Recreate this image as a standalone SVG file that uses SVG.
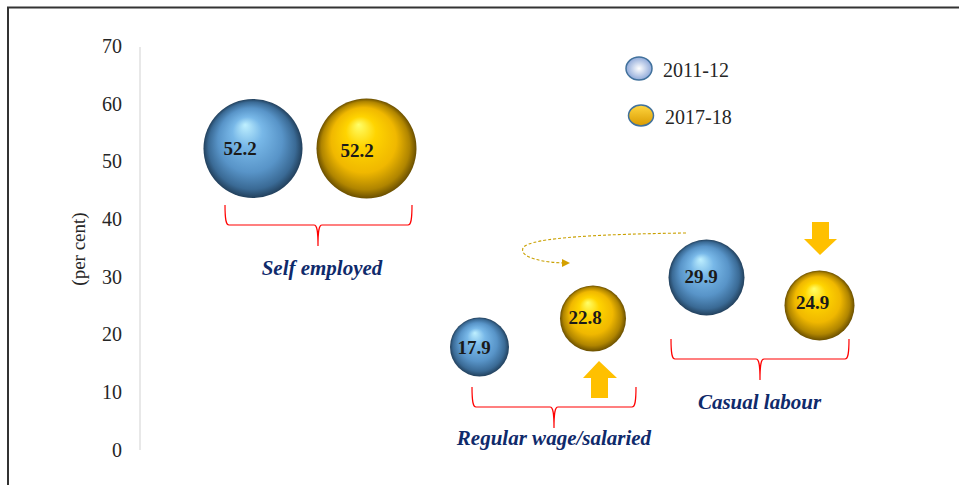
<svg xmlns="http://www.w3.org/2000/svg" width="959" height="485" viewBox="0 0 959 485">
<style>
.brace{fill:none;stroke:#ff0000;stroke-width:1.2}
.arr{fill:#ffc000}
</style>
<defs>
<radialGradient id="gb" cx="50%" cy="50%" r="50%" fx="42%" fy="26%">
<stop offset="0" stop-color="#bff0ff"/>
<stop offset="0.3" stop-color="#78b8e8"/>
<stop offset="0.65" stop-color="#5894c8"/>
<stop offset="0.88" stop-color="#3a6a95"/>
<stop offset="1" stop-color="#22405c"/>
</radialGradient>
<radialGradient id="gy" cx="50%" cy="50%" r="50%" fx="42%" fy="26%">
<stop offset="0" stop-color="#ffff6a"/>
<stop offset="0.3" stop-color="#ffd400"/>
<stop offset="0.65" stop-color="#f0b800"/>
<stop offset="0.88" stop-color="#b08500"/>
<stop offset="1" stop-color="#6a4f00"/>
</radialGradient>
<radialGradient id="lb" cx="50%" cy="50%" r="50%">
<stop offset="0" stop-color="#ffffff"/>
<stop offset="1" stop-color="#8fa9d9"/>
</radialGradient>
<linearGradient id="ly" x1="0" y1="0" x2="0" y2="1">
<stop offset="0" stop-color="#ffd640"/>
<stop offset="1" stop-color="#d99a00"/>
</linearGradient>
<marker id="ah" markerWidth="8" markerHeight="8" refX="6" refY="4" orient="auto" markerUnits="userSpaceOnUse">
<path d="M0,0 L8,4 L0,8 Z" fill="#d4a000"/>
</marker>
</defs>
<rect width="959" height="485" fill="#ffffff"/>
<path d="M8,485 V7.5 H959" fill="none" stroke="#333333" stroke-width="2"/>
<g id="axis">
<line x1="140" y1="47" x2="140" y2="450" stroke="#d9d9d9" stroke-width="1.2"/>
<g font-family="Liberation Serif, serif" font-size="20" fill="#262626" text-anchor="end">
<text x="122" y="53">70</text>
<text x="122" y="111">60</text>
<text x="122" y="168">50</text>
<text x="122" y="226">40</text>
<text x="122" y="284">30</text>
<text x="122" y="341">20</text>
<text x="122" y="399">10</text>
<text x="122" y="457">0</text>
</g>
<text font-family="Liberation Serif, serif" font-size="19" fill="#262626" transform="translate(85,249) rotate(-90)" text-anchor="middle">(per cent)</text>
</g>
<g id="legend" font-family="Liberation Serif, serif" font-size="20" fill="#262626">
<ellipse cx="639" cy="68.5" rx="13" ry="11.5" fill="url(#lb)" stroke="#41719c" stroke-width="1.5"/>
<text x="663" y="77">2011-12</text>
<ellipse cx="641" cy="115.5" rx="12.5" ry="10.5" fill="url(#ly)" stroke="#41719c" stroke-width="1.5"/>
<text x="665" y="124">2017-18</text>
</g>
<g id="connectors">
<path class="brace" d="M225,205 C225,220 226,225 229,225 H314 C317,225 318,230 318,246 C318,230 319,225 322,225 H408 C411,225 412,220 412,205"/>
<path class="brace" d="M472,387 C472,402 473,407 476,407 H550 C553,407 554,412 554,428 C554,412 555,407 558,407 H632 C635,407 636,402 636,387"/>
<path class="brace" d="M671,339 C671,354 672,359 675,359 H756 C759,359 760,364 760,380 C760,364 761,359 764,359 H845 C848,359 849,354 849,339"/>
<path d="M686,233 C610,234 528,237 523,248 C519,258 545,263 568,263" fill="none" stroke="#c9a000" stroke-width="1.1" stroke-dasharray="3,2" marker-end="url(#ah)"/>
<path class="arr" d="M591,398 V378 H583 L599,361 L617,378 H608 V398 Z"/>
<path class="arr" d="M812,222 H829 V239 H837 L820,255 L804,239 H812 Z"/>
</g>
<g font-family="Liberation Serif, serif" font-size="19" font-weight="bold" fill="#1a1a1a" text-anchor="middle">
<g id="se-2011">
<circle cx="253" cy="148.5" r="49.5" fill="url(#gb)"/>
<text x="240" y="155">52.2</text>
</g>
<g id="se-2017">
<circle cx="366.5" cy="148.5" r="50" fill="url(#gy)"/>
<text x="357" y="157">52.2</text>
</g>
<g id="rw-2011">
<circle cx="479.5" cy="347" r="29.5" fill="url(#gb)"/>
<text x="474" y="354">17.9</text>
</g>
<g id="rw-2017">
<circle cx="593" cy="318.5" r="33" fill="url(#gy)"/>
<text x="585" y="324">22.8</text>
</g>
<g id="cl-2011">
<circle cx="706.5" cy="277.5" r="38" fill="url(#gb)"/>
<text x="701" y="283">29.9</text>
</g>
<g id="cl-2017">
<circle cx="819.5" cy="305.5" r="35" fill="url(#gy)"/>
<text x="812.5" y="309">24.9</text>
</g>
</g>
<g id="labels" font-family="Liberation Serif, serif" font-size="21" font-weight="bold" font-style="italic" fill="#0f2a6b" text-anchor="middle">
<text x="322" y="275">Self employed</text>
<text x="554" y="445">Regular wage/salaried</text>
<text x="759.5" y="409">Casual labour</text>
</g>
</svg>
